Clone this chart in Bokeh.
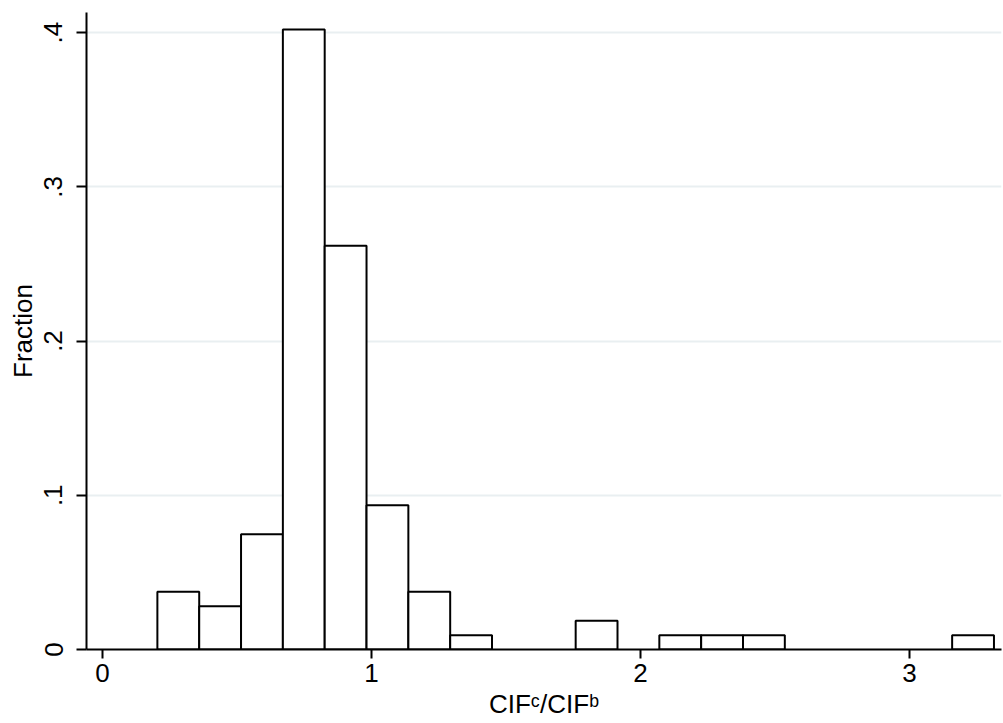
from bokeh.plotting import figure
from bokeh.models import Range1d, FixedTicker, ColumnDataSource
from bokeh.embed import file_html
from bokeh.resources import INLINE

# Histogram of CIF^c / CIF^b (fraction of observations per bin)
bin_left = [0.204, 0.3595, 0.515, 0.6705, 0.826, 0.9815, 1.137, 1.2925, 1.448, 1.6035,
            1.759, 1.9145, 2.07, 2.2255, 2.381, 2.5365, 2.692, 2.8475, 3.003, 3.1585]
bin_right = [0.3595, 0.515, 0.6705, 0.826, 0.9815, 1.137, 1.2925, 1.448, 1.6035, 1.759,
             1.9145, 2.07, 2.2255, 2.381, 2.5365, 2.692, 2.8475, 3.003, 3.1585, 3.314]
fraction = [0.0374, 0.028, 0.0748, 0.4019, 0.2617, 0.0935, 0.0374, 0.0093, 0.0, 0.0,
            0.0187, 0.0, 0.0093, 0.0093, 0.0093, 0.0, 0.0, 0.0, 0.0, 0.0093]

x_ticks = [0, 1, 2, 3]
y_ticks = [0, 0.1, 0.2, 0.3, 0.4]
y_tick_labels = ["0", ".1", ".2", ".3", ".4"]
y_label = "Fraction"
x_label = "CIF\u1d9c/CIF\u1d47"

FONT = "Liberation Sans, Arial, DejaVu Sans, sans-serif"

keep = [i for i, f in enumerate(fraction) if f > 0]
src = ColumnDataSource(dict(
    left=[bin_left[i] for i in keep],
    right=[bin_right[i] for i in keep],
    top=[fraction[i] for i in keep],
    bottom=[0.0 for _ in keep],
))

p = figure(width=1003, height=723, output_backend="svg", toolbar_location=None,
           x_range=Range1d(-0.0595, 3.342), y_range=Range1d(0, 0.413),
           min_border_left=86, min_border_right=2, min_border_top=12, min_border_bottom=74)
p.outline_line_color = None
p.background_fill_color = "white"
p.border_fill_color = "white"

p.quad(left="left", right="right", top="top", bottom="bottom", source=src,
       fill_color="white", line_color="black", line_width=2)

# grid
p.xgrid.visible = False
p.ygrid.ticker = FixedTicker(ticks=[0.1, 0.2, 0.3, 0.4])
p.ygrid.grid_line_color = "#e9eff1"
p.ygrid.grid_line_width = 2

# x axis
xa = p.xaxis[0]
xa.ticker = FixedTicker(ticks=x_ticks)
xa.minor_tick_line_color = None
xa.major_tick_out = 9
xa.major_tick_in = 0
xa.major_tick_line_width = 2
xa.axis_line_width = 2
xa.major_label_standoff = 5
xa.major_label_text_font = FONT
xa.major_label_text_font_size = "26px"
xa.major_label_text_color = "black"
xa.axis_label = x_label
xa.axis_label_text_font = FONT
xa.axis_label_text_font_size = "26px"
xa.axis_label_text_font_style = "normal"
xa.axis_label_text_color = "black"
xa.axis_label_standoff = 4

# y axis
ya = p.yaxis[0]
ya.ticker = FixedTicker(ticks=y_ticks)
ya.major_label_overrides = {t: l for t, l in zip(y_ticks, y_tick_labels)}
ya.major_label_orientation = "vertical"
ya.minor_tick_line_color = None
ya.major_tick_out = 10
ya.major_tick_in = 0
ya.major_tick_line_width = 2
ya.axis_line_width = 2
ya.major_label_standoff = 14
ya.major_label_text_font = FONT
ya.major_label_text_font_size = "26px"
ya.major_label_text_color = "black"
ya.axis_label = y_label
ya.axis_label_text_font = FONT
ya.axis_label_text_font_size = "26px"
ya.axis_label_text_font_style = "normal"
ya.axis_label_text_color = "black"
ya.axis_label_standoff = 4

open("out.html", "w").write(file_html(p, INLINE))
